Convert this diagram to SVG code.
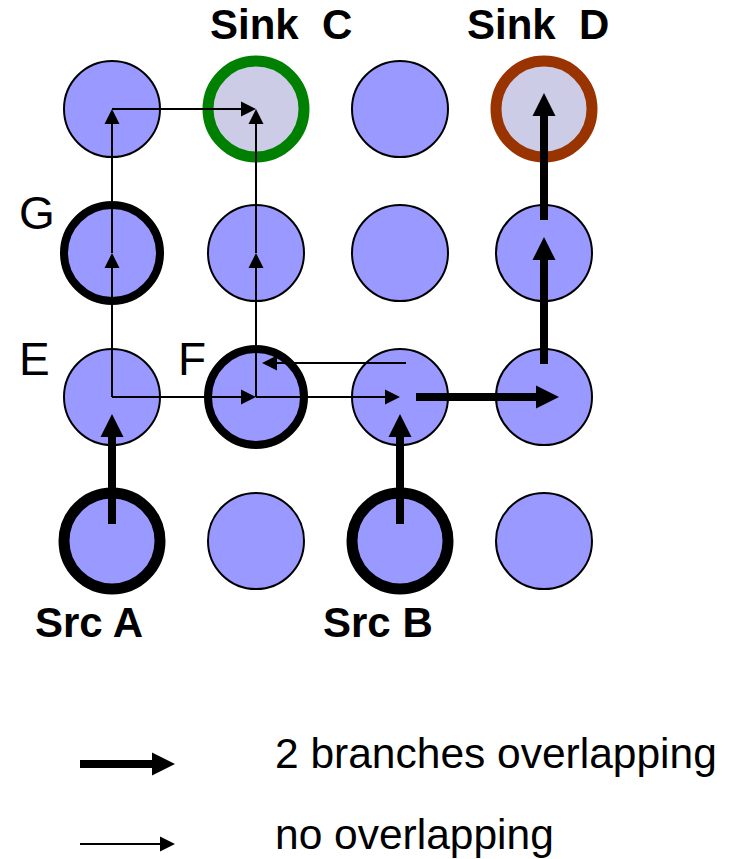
<svg xmlns="http://www.w3.org/2000/svg" width="730" height="859" viewBox="0 0 730 859">
<style>
.n{fill:#9999FF;stroke:#000;stroke-width:2}
.g{stroke-width:8}
.s{stroke-width:11}
.sink{fill:#CCCCE6}
.thin{fill:none;stroke:#000;stroke-width:2;marker-end:url(#ah)}
.thick{fill:none;stroke:#000;stroke-width:8;marker-end:url(#AH)}
.lb{font-family:"Liberation Sans",Arial,sans-serif;font-weight:bold;font-size:42px;fill:#000}
.lr{font-family:"Liberation Sans",Arial,sans-serif;font-size:46px;fill:#000}
.lg{font-family:"Liberation Sans",Arial,sans-serif;font-size:42.5px;fill:#000}
</style>
<defs>
<marker id="ah" markerUnits="userSpaceOnUse" markerWidth="16" markerHeight="15" refX="0" refY="7.5" orient="auto" overflow="visible"><path d="M0,0 L15,7.5 L0,15 z" fill="#000"/></marker>
<marker id="AH" markerUnits="userSpaceOnUse" markerWidth="23" markerHeight="23" refX="0" refY="11.5" orient="auto" overflow="visible"><path d="M0,0 L23,11.5 L0,23 z" fill="#000"/></marker>
</defs>
<g id="r1c1"><circle class="n" cx="112" cy="109" r="48"/></g>
<g id="sinkC"><circle class="n sink s" cx="256" cy="109" r="48" style="stroke:#008000"/><text class="lb" x="210" y="39" xml:space="preserve">Sink  C</text></g>
<g id="r1c3"><circle class="n" cx="400" cy="109" r="48"/></g>
<g id="sinkD"><circle class="n sink s" cx="544" cy="109" r="48" style="stroke:#993300"/><text class="lb" x="467" y="39" xml:space="preserve">Sink  D</text></g>
<g id="G"><circle class="n g" cx="112" cy="253" r="48"/><text class="lr" x="19" y="229">G</text></g>
<g id="r2c2"><circle class="n" cx="256" cy="253" r="48"/></g>
<g id="r2c3"><circle class="n" cx="400" cy="253" r="48"/></g>
<g id="r2c4"><circle class="n" cx="544" cy="253" r="48"/></g>
<g id="E"><circle class="n" cx="112" cy="397" r="48"/><text class="lr" x="19" y="375">E</text></g>
<g id="F"><circle class="n g" cx="256" cy="397" r="48"/><text class="lr" x="178" y="375">F</text></g>
<g id="r3c3"><circle class="n" cx="400" cy="397" r="48"/></g>
<g id="r3c4"><circle class="n" cx="544" cy="397" r="48"/></g>
<g id="srcA"><circle class="n s" cx="112" cy="541" r="48"/><text class="lb" x="35" y="637">Src A</text></g>
<g id="r4c2"><circle class="n" cx="256" cy="541" r="48"/></g>
<g id="srcB"><circle class="n s" cx="400" cy="541" r="48"/><text class="lb" x="323" y="637">Src B</text></g>
<g id="r4c4"><circle class="n" cx="544" cy="541" r="48"/></g>
<g id="connectors">
<path class="thin" d="M112,397 V268"/>
<path class="thin" d="M112,253 V124"/>
<path class="thin" d="M112,109 H241"/>
<path class="thin" d="M112,397 H241"/>
<path class="thin" d="M256,397 V268"/>
<path class="thin" d="M256,253 V124"/>
<path class="thin" d="M256,397 H385"/>
<path class="thin" d="M406,363 H277"/>
<path class="thick" d="M112,524 V437"/>
<path class="thick" d="M400,524 V437"/>
<path class="thick" d="M416,397 H536"/>
<path class="thick" d="M544,364 V260"/>
<path class="thick" d="M544,220 V116"/>
</g>
<g id="legend">
<path class="thick" d="M80,764 H152"/>
<text class="lg" x="275" y="768">2 branches overlapping</text>
<path class="thin" d="M80,844 H160"/>
<text class="lg" x="275" y="849">no overlapping</text>
</g>
</svg>
